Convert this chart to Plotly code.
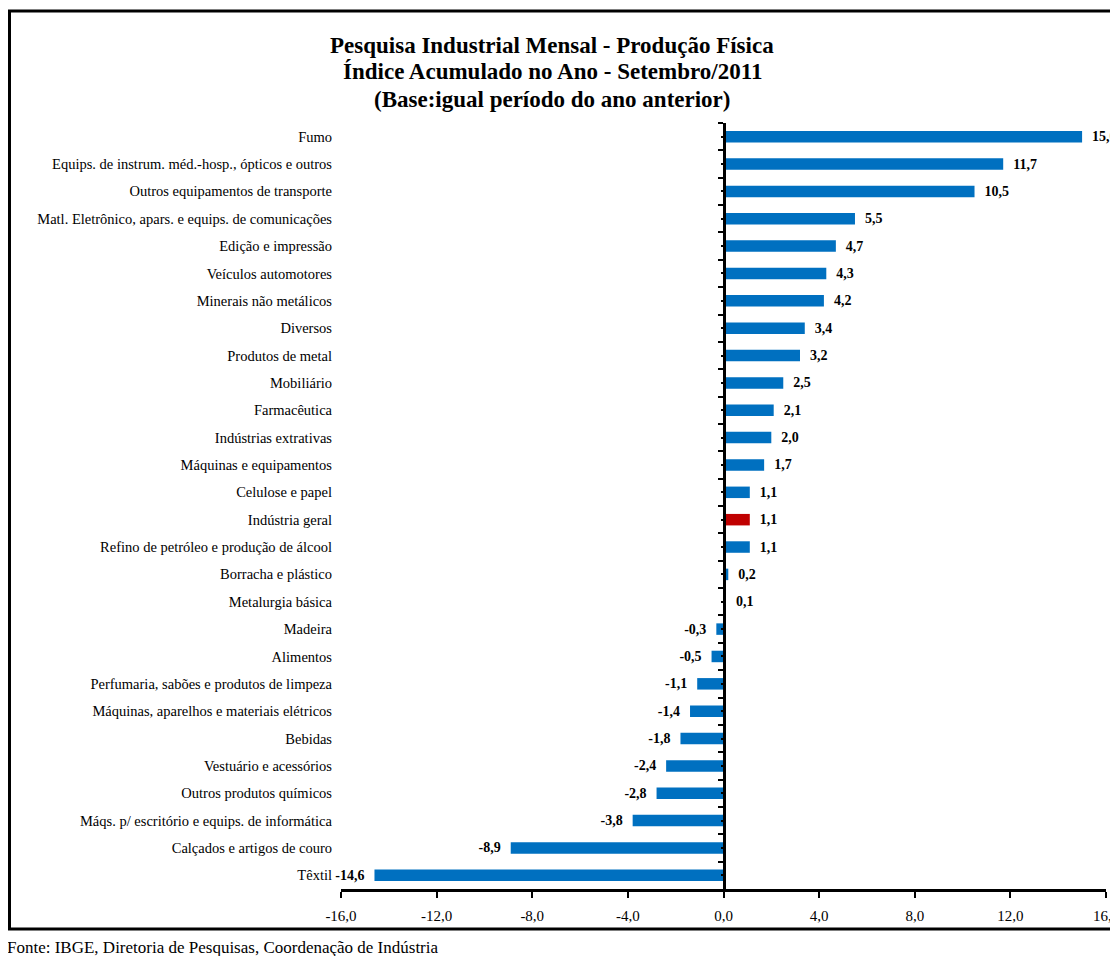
import plotly.graph_objects as go

# ---- data (top to bottom as in the reference) ----
categories = [
    "Fumo",
    "Equips. de instrum. méd.-hosp., ópticos e outros",
    "Outros equipamentos de transporte",
    "Matl. Eletrônico, apars. e equips. de comunicações",
    "Edição e impressão",
    "Veículos automotores",
    "Minerais não metálicos",
    "Diversos",
    "Produtos de metal",
    "Mobiliário",
    "Farmacêutica",
    "Indústrias extrativas",
    "Máquinas e equipamentos",
    "Celulose e papel",
    "Indústria geral",
    "Refino de petróleo e produção de álcool",
    "Borracha e plástico",
    "Metalurgia básica",
    "Madeira",
    "Alimentos",
    "Perfumaria, sabões e produtos de limpeza",
    "Máquinas, aparelhos e materiais elétricos",
    "Bebidas",
    "Vestuário e acessórios",
    "Outros produtos químicos",
    "Máqs. p/ escritório e equips. de informática",
    "Calçados e artigos de couro",
    "Têxtil",
]
values = [15.0, 11.7, 10.5, 5.5, 4.7, 4.3, 4.2, 3.4, 3.2, 2.5, 2.1, 2.0, 1.7, 1.1,
          1.1, 1.1, 0.2, 0.1, -0.3, -0.5, -1.1, -1.4, -1.8, -2.4, -2.8, -3.8, -8.9, -14.6]
highlight = "Indústria geral"
x_ticks = [-16, -12, -8, -4, 0, 4, 8, 12, 16]

title_lines = [
    "Pesquisa Industrial Mensal - Produção Física",
    "Índice Acumulado no Ano - Setembro/2011",
    "(Base:igual período do ano anterior)",
]
source_text = "Fonte: IBGE, Diretoria de Pesquisas, Coordenação de Indústria"

BLUE = "#0070C0"
RED = "#C00000"
SERIF = "Liberation Serif, Times New Roman, serif"


def fmt(v):
    return f"{v:.1f}".replace(".", ",")


# figure is shifted by the 8px page margin of the html body
W, H = 1110, 948
L, R, T, B = 333, 12, 115, 67
pw, ph = W - L - R, H - T - B


def px_x(px):
    return (px - L) / pw


def px_y(py):
    return (H - B - py) / ph


colors = [RED if c == highlight else BLUE for c in categories]
NB = "\u00a0"
labels = [(NB * 2 + "<b>" + fmt(v) + "</b>") if v >= 0 else ("<b>" + fmt(v) + "</b>" + NB * 2)
          for v in values]

n = len(categories)
yrange = [n - 0.5, -0.5]
xmin, xmax = x_ticks[0], x_ticks[-1]

fig = go.Figure()
fig.add_trace(go.Bar(
    x=values, y=categories, orientation="h",
    marker=dict(color=colors, line=dict(width=0)),
    width=0.42,
    text=labels, textposition="outside", constraintext="none", cliponaxis=False,
    textfont=dict(family=SERIF, size=14, color="black"),
    outsidetextfont=dict(family=SERIF, size=14, color="black"),
    hoverinfo="skip", showlegend=False,
))
# invisible helpers carrying the zero-line axes (boundary ticks and centre ticks)
for ax in ("y2", "y3"):
    fig.add_trace(go.Scatter(
        x=[0] * n, y=categories, yaxis=ax, mode="markers",
        marker=dict(opacity=0), hoverinfo="skip", showlegend=False,
    ))

zero_pos = (0 - xmin) / (xmax - xmin)

fig.update_layout(
    width=W, height=H,
    margin=dict(l=L, r=R, t=T, b=B, pad=0, autoexpand=False),
    paper_bgcolor="white", plot_bgcolor="white",
    separators=",.",
    font=dict(family=SERIF, color="black"),
    xaxis=dict(
        range=[xmin, xmax], tickvals=x_ticks, ticktext=[fmt(t) for t in x_ticks],
        ticks="outside", ticklen=6, tickwidth=2, tickcolor="black",
        showline=True, linewidth=2.5, linecolor="black",
        showgrid=False, zeroline=False, automargin=False,
        tickfont=dict(family=SERIF, size=15, color="black"),
        ticklabelstandoff=5, ticklabeloverflow="allow",
    ),
    yaxis=dict(
        type="category", categoryorder="array", categoryarray=categories,
        range=yrange, ticks="", showline=False, showgrid=False, zeroline=False,
        automargin=False,
        tickfont=dict(family=SERIF, size=14.5, color="black"),
        ticklabelstandoff=8,
    ),
    yaxis2=dict(
        type="category", categoryorder="array", categoryarray=categories,
        range=yrange, overlaying="y", anchor="free", position=zero_pos, side="left",
        showline=True, linewidth=2.5, linecolor="black", automargin=False,
        ticks="outside", tickson="boundaries", ticklen=5, tickwidth=2, tickcolor="black",
        showticklabels=False, showgrid=False, zeroline=False,
    ),
    yaxis3=dict(
        type="category", categoryorder="array", categoryarray=categories,
        range=yrange, overlaying="y", anchor="free", position=zero_pos, side="left",
        showline=False, automargin=False,
        ticks="outside", ticklen=3, tickwidth=2, tickcolor="black",
        showticklabels=False, showgrid=False, zeroline=False,
    ),
    bargap=0.58,
)

# title lines
for line, cy in zip(title_lines, [37, 64, 92]):
    fig.add_annotation(
        text="<b>" + line + "</b>", xref="paper", yref="paper",
        x=px_x(544), y=px_y(cy), xanchor="center", yanchor="middle",
        showarrow=False, font=dict(family=SERIF, size=23, color="black"),
    )

# chart frame (decoration)
fig.add_shape(
    type="rect", xref="paper", yref="paper",
    x0=px_x(1.5), x1=px_x(W + 20), y0=px_y(921), y1=px_y(3),
    line=dict(color="black", width=3), fillcolor="rgba(0,0,0,0)", layer="above",
)

fig.add_annotation(
    text=source_text, xref="paper", yref="paper",
    x=px_x(-3), y=px_y(939), xanchor="left", yanchor="middle",
    showarrow=False, font=dict(family=SERIF, size=17, color="black"),
)

fig.write_html("out.html")
